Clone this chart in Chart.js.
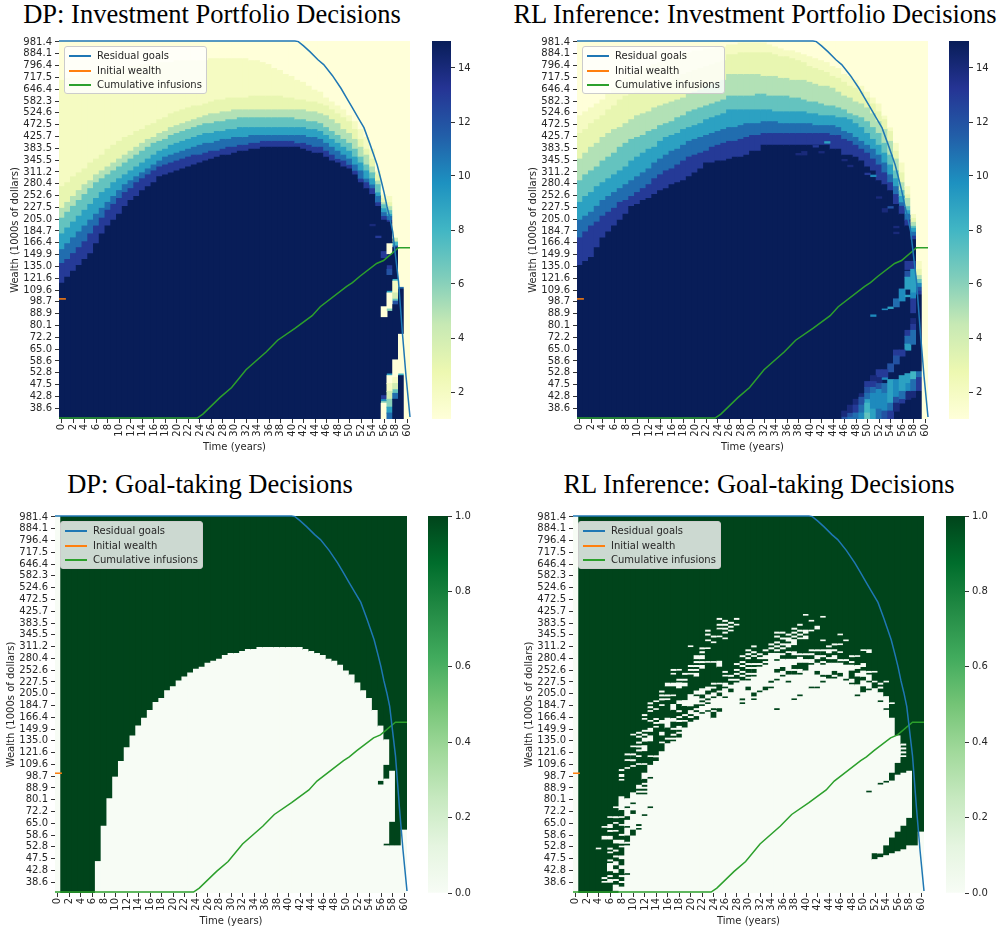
<!DOCTYPE html>
<html lang="en">
<head>
<meta charset="UTF-8">
<script src="https://cdn.jsdelivr.net/npm/chart.js"></script>
<style>
    body { margin: 0; background: #fff; width: 1000px; height: 930px; position: relative; overflow: hidden; }
    canvas { position: absolute; }
    .title { position: absolute; width: 600px; text-align: center; font: 26.5px 'Liberation Serif', serif; color: #000; white-space: nowrap; }
    .legend { position: absolute; width: 141px; height: 46px; background: rgba(255,255,255,0.8); border: 1px solid #ccc; border-radius: 3px; font: 10px 'DejaVu Sans', sans-serif; color: #262626; }
    .legend div { position: absolute; left: 32px; white-space: nowrap; line-height: 12px; }
    .legend i { position: absolute; left: -28px; top: 5px; width: 22px; height: 2px; }
</style>
</head>
<body>
<script>
// axis labels
const wealthTicks = [981.4,884.1,796.4,717.5,646.4,582.3,524.6,472.5,425.7,383.5,345.5,311.2,280.4,252.6,227.5,205.0,184.7,166.4,149.9,135.0,121.6,109.6,98.7,88.9,80.1,72.2,65.0,58.6,52.8,47.5,42.8,38.6];
const yearTicks = [0,2,4,6,8,10,12,14,16,18,20,22,24,26,28,30,32,34,36,38,40,42,44,46,48,50,52,54,56,58,60];
const portfolioBarTicks = [2,4,6,8,10,12,14];
const goalBarTicks = [0,0.2,0.4,0.6,0.8,1.0];
const rowCount = 192, colCount = 61;

// lines, x in years, y in wealth grid rows
const goalsT = [0,41,41.6,42.5,43.6,45,46,47.5,49,50,51,52,53,54,54.6,55.3,56,56.5,57,57.5,58,59,59.7,60.3,61];
const goalsRow = [0,0,0.3,2.5,5.4,9.5,12,17.5,24,29,34,39,44,52,57,63,71,77,84,90,97,122,149,170,191];
const wealthT = [0,1.2];
const wealthRow = [131,131];
const infusionT = [0,24,25,28,30,32.5,36,38,41,44,45.4,50,51,52.3,55.2,56.4,59,61];
const infusionRow = [191.5,191.5,189.5,181,176,167,158,152,146,139.5,135,124.6,122.7,119.5,113,111.5,105,105];

// DP portfolio: first row (from the top) where each level starts, one entry per year
const dpLevels = [2,3,5,7,9,11,13,15];
const dpTop2 = [20,19,18,18,17,17,16,16,15,15,14,14,13,13,12,12,12,11,11,11,10,10,10,10,10,10,9,9,9,9,9,9,9,10,10,11,12,14,15,17,18,20,21,23,25,26,29,31,33,35,38,41,45,49,55,66,78,79];
const dpTop3 = [74,72,69,67,65,62,60,58,55,53,51,49,48,46,45,43,42,40,39,37,36,35,34,33,33,32,31,30,30,29,29,29,29,28,28,28,28,28,28,29,29,30,30,31,31,32,33,35,37,39,41,45,50,55,60,68,80,82];
const dpTop5 = [85,82,79,76,73,71,68,66,64,62,60,58,56,54,52,50,49,47,46,44,43,42,41,40,39,38,37,37,36,36,35,35,35,35,35,35,35,35,35,35,35,35,35,36,36,37,38,40,42,45,47,50,54,58,64,71,82,84];
const dpTop7 = [90,87,84,81,78,75,72,70,68,66,64,62,60,58,56,54,52,51,50,48,47,46,45,44,43,42,42,41,41,40,40,39,39,39,39,39,39,39,39,39,39,40,40,41,41,42,44,46,48,50,52,55,59,63,67,73,83,86];
const dpTop9 = [98,95,92,89,86,83,80,77,75,72,70,68,66,64,62,60,58,56,55,53,52,51,50,49,48,47,47,46,46,45,45,44,44,44,44,44,44,44,44,44,44,44,44,45,45,46,48,50,52,54,56,59,62,66,70,77,85,88];
const dpTop11 = [106,103,100,97,94,91,88,85,82,79,76,73,71,69,67,65,63,61,59,58,57,56,55,54,53,52,52,51,50,50,49,49,49,48,48,48,48,48,48,48,48,48,48,49,49,50,52,54,56,58,60,63,66,70,73,79,87,89];
const dpTop13 = [113,111,108,105,102,98,94,90,86,83,80,77,75,72,70,68,66,64,63,62,61,60,59,58,58,57,56,56,55,54,54,53,53,52,52,51,51,51,51,51,51,52,52,53,54,54,56,58,60,61,63,66,70,72,75,82,89,91];
const dpTop15 = [123,120,117,114,111,108,103,98,94,91,88,84,81,79,76,74,72,69,68,67,66,65,64,63,62,61,60,59,58,58,57,56,56,55,55,54,54,54,54,54,54,54,55,56,57,57,59,61,62,64,65,68,72,75,78,84,91,92];
// [year, from row, to row, level] pieces that break the bands
const dpPatches = [
    [54,93,94,14],[55,99,100,13],
    [56,107,110,13],[56,135,140,1],[56,180,182,13],[56,182,183,10],[56,183,184,6],[56,184,192,1],
    [57,103,108,1],[57,114,116,13],[57,116,118.6,12],[57,127,128,9],[57,128,136,1],[57,136,137,6],[57,169,170,9],[57,170,174,1],[57,174,178,2],[57,178,182,4],[57,182,186,6],[57,186,189,9],[57,189,192,11],
    [58,0,100,1],[58,100,102,4],[58,102,104,8],[58,104,105,12],[58,105,121,15],[58,121,122,8],[58,122,128,2],[58,128,131,4],[58,131,132,7],[58,132,134,12],[58,134,162,15],[58,162,171,1],[58,171,174,2],[58,174,177,4],[58,177,179,7],[58,179,182,11],[58,182,192,15],
    [59,0,125,1],[59,125,126,11],[59,126,149,15],[59,149,169,1],[59,169,170,8],[59,170,192,15],
    [60,0,192,1]
];

// RL portfolio
const rlLevels = [2,3,5,7,9,11,13,15];
const rlTop2 = [38,36,34,32,30,27,24,21,19,17,15,14,13,12,11,10,9,8,7,6,5,5,4,4,3,3,2,2,1,1,1,1,1,2,3,4,5,5,6,7,8,9,10,11,13,14,17,18,20,23,26,29,32,38,44,52,62,74,88];
const rlTop3 = [47,45,42,40,38,35,33,30,28,27,26,25,25,24,22,21,20,19,17,16,15,14,13,12,11,10,7,7,6,6,6,6,6,6,7,8,8,9,10,11,13,14,15,16,18,19,21,23,24,26,29,32,36,40,46,56,67,78,90];
const rlTop5 = [60,57,54,52,49,47,45,44,42,40,38,37,36,34,33,32,31,30,29,27,26,25,23,22,21,20,17,17,17,17,17,17,18,18,18,19,19,20,20,20,21,22,23,23,24,26,28,29,31,32,34,37,41,45,51,60,72,80,92];
const rlTop7 = [71,68,66,64,61,59,57,54,52,50,49,48,46,45,43,42,41,39,38,36,35,34,33,32,31,30,28,28,28,28,28,27,27,28,28,28,28,29,29,30,31,31,32,33,33,34,35,37,38,39,41,44,47,52,58,66,76,84,94];
const rlTop9 = [82,79,77,74,72,70,68,66,64,61,59,57,55,54,51,49,48,47,45,44,43,42,40,39,38,37,35,35,35,35,35,35,35,35,36,36,36,36,36,36,37,37,38,38,38,39,39,40,42,44,47,50,53,57,63,70,79,86,95];
const rlTop11 = [91,89,87,84,81,79,77,75,73,71,69,67,65,62,60,58,56,55,53,51,50,49,48,47,46,45,44,44,43,42,42,42,41,41,41,42,42,42,42,42,42,43,43,43,43,44,46,47,49,51,53,55,58,62,68,74,82,88,97];
const rlTop13 = [100,97,94,92,89,87,85,82,81,79,77,75,73,70,68,66,65,63,61,59,58,57,56,54,53,52,51,51,50,49,48,48,47,47,47,47,47,47,47,47,47,47,47,47,48,48,50,51,53,55,57,60,63,67,72,78,84,91,99];
const rlTop15 = [114,112,110,105,100,97,94,91,88,84,83,81,80,78,76,75,73,72,71,69,67,65,62,62,61,61,60,59,59,58,56,56,53,53,53,53,53,53,53,53,53,53,53,53,55,55,58,58,59,61,64,66,71,73,76,83,88,94,101];
const rlPatches = [
    [38,57,58,14],[39,56,58,14],[40,50,51,13],[41,53,54,13],[42,56,57,14],[43,51,52,9],[46,60,61,14],[47,63,64,14],[50,67,68,13],[51,68,69,10],[52,79,80,14],[53,85,87,14],[54,84,85,12],[55,94,95,14],[55,97,98,14],
    [51,139,140,10],[53,136,136.6,10],[54,135,136,9],[55,131,135,11],[56,126,132,10],
    [57,112,116,13],[57,117,120,12],[57,120,126,9],[57,129,130,9],[57,147,150,13],[57,150,154,11],[57,154,157,9],[57,169,174,9],[57,174,178,10],[57,178,182,14],
    [58,112,116,13],[58,116,128,9],[58,128,131,10],[58,131,138,13],[58,141,144,14],[58,144,147,13],[58,147,154,11],[58,168,172,8],[58,172,178,11],[58,178,181,14],
    [55,157,160,13],[56,157,160,13],[55,160,164,12],[54,164,168,12],[53,167,171,13],[52,167,171,13],[52,171,174,14],[53,171,172,10],[51,170,173,14],[51,173,176,13],[50,173,176,13],
    [46,188,191,14],[46,191,192,12],[47,185,189,14],[47,189,191,12],[47,191,192,11],[48,182,185,14],[48,185,189,13],[48,189,192,11],
    [49,179,181,14],[49,181,185,12],[49,185,189,11],[49,189,192,10],[50,176,179,12],[50,179,182,11],[50,182,184,9],[50,184,189,8],[50,189,192,7],
    [51,176,179,11],[51,179,187,10],[51,187,192,9],[52,174,177,12],[52,177,187,10],[52,187,192,11],[53,174,179,11],[53,179,188,10],[53,188,192,12],
    [54,172,184,9],[54,184,188,11],[54,188,192,13],[55,172,181,10],[55,181,184,12],[55,184,188,14],[56,170,178,9],[56,178,182,11],[56,182,184,13],
    [59,0,112,1],[59,112,116,2],[59,116,119,3],[59,119,121,5],[59,121,123,7],[59,123,125,10],[59,125,127,12],[59,127,129,13],[59,129,168,15],[59,168,171,11],[59,171,178,13],[59,178,192,15],
    [60,0,192,1]
];

// goal taking: rows where the decision is 0, per year, everything else is 1
const dpGoalZero = [
    [[0,192]],[],[],[],[],[],[],[[176,192]],[[158,192]],[[144,192]],
    [[133,192]],[[125,192]],[[118,192]],[[112,192]],[[107,192]],[[103,192]],[[99,192]],[[95,192]],[[93,192]],[[89,192]],
    [[87,192]],[[84,192]],[[82,192]],[[80,192]],[[78,192]],[[77,192]],[[75,192]],[[74,192]],[[73,192]],[[71,192]],
    [[70,192]],[[70,192]],[[69,192]],[[68,192]],[[68,192]],[[67,192]],[[67,192]],[[67,192]],[[67,192]],[[67,192]],
    [[67,192]],[[67,192]],[[67,192]],[[68,192]],[[69,192]],[[70,192]],[[71,192]],[[73,192]],[[74,192]],[[76,192]],
    [[79,192]],[[81,192]],[[85,192]],[[89,192]],[[93,192]],[[99,192]],[[107,135],[137,192]],[[114,127],[134,167],[168,192]],[[130,156],[168,192]],[[168,192]],
    [[160,192]]
];
const rlGoalZero = [
    [[0,192]],[],[],[],[[169,170]],
    [[158,159],[163,165],[184,185],[186,187]],
    [[153,154],[157,159],[160,161],[163,165],[169,170],[171,172],[175,176],[177,181],[183,184],[185,187]],
    [[148,149],[153,154],[156,157],[160,161],[165,167],[170,171],[173,174],[176,178],[180,182],[185,186],[188,191]],
    [[129,130],[131.5,133],[134,135],[143,150],[153,154],[157,158],[162,163],[165,167],[168,169],[173,175],[178,180],[183,184],[186,187],[189,192]],
    [[121,122],[124,125],[128,129],[144,148],[149,153],[155,158],[159,163],[166,167],[168,182],[183,192]],
    [[111,112],[117,118],[121,122],[124,125],[127,128],[141,146],[147,150],[152,160],[163,192]],
    [[110,111],[112,113],[115,116],[117,118],[119,120],[122,123],[126,127],[137,139],[140,141],[142,157],[158,159],[160,192]],
    [[101,102],[103,104],[109,110],[111,112],[113,115],[117,120],[126,127],[131,134],[136,137],[138,139],[140,141],[142,152],[153,192]],
    [[95,96],[97,98],[99,100],[104,105],[108,110],[112,115],[122,123],[127,133],[134,148],[149,192]],
    [[94,95],[98,99],[103,104],[105,106],[107,108],[122,123],[125,192]],
    [[89,90],[91,92],[93,94],[96,97],[104,106],[110,112],[115,116],[120,192]],
    [[85,87],[91,92],[93,94],[103,108],[113,114],[116,192]],
    [[78,79],[80,81],[85,87],[91,92],[96,99],[103,105],[108,109],[111,112],[113,114],[115,192]],
    [[78,79],[83,84],[85,88],[94,96],[99,100],[102,103],[104,105],[107,109],[110,111],[113,192]],
    [[80,81],[83,84],[85,87],[94,97],[101,102],[104,105],[108,192]],
    [[66,67],[76,77],[78,79],[80,81],[91,97],[99,101],[102,103],[105,192]],
    [[71,73],[74,75],[76,77],[78,79],[80,82],[89,91],[92,96],[98,99],[100,102],[104,192]],
    [[67,68],[69,70],[71,73],[74,75],[76,78],[88,91],[93,94],[95,96],[97,100],[101,192]],
    [[58,59],[60,61],[63,64],[67,68],[74,75],[87,89],[91,93],[94,95],[96,99],[100,192]],
    [[61,62],[64,65],[74,75],[85,86],[87,88],[90,92],[93,98],[99,100],[103,192]],
    [[52,53],[55,56],[57,58],[61,62],[74,77],[85,86],[89,90],[92,98],[100,192]],
    [[53,54],[55,56],[57,58],[59,60],[62,63],[79,80],[81,82],[85,87],[88,92],[93,192]],
    [[54,55],[56,57],[58,59],[81,82],[83,84],[86,88],[90,192]],
    [[52,53],[55,56],[75,76],[78,79],[80,81],[83,84],[85,192]],
    [[71,72],[74,75],[76,77],[79,80],[81,82],[84,93],[94,95],[96,192]],
    [[68,69],[70,71],[72,73],[75,76],[77,78],[80,81],[82,83],[84,87],[89,192]],
    [[66,67],[69,70],[71,72],[75,76],[77,78],[80,81],[82,90],[92,93],[94,192]],
    [[70,71],[72,73],[75,76],[77,89],[90,192]],
    [[68,69],[71,73],[74,75],[76,87],[89,192]],
    [[65,66],[67,68],[70,84],[85,87],[88,192]],
    [[59,60],[61,62],[64,65],[66,67],[68,69],[70,73],[74,78],[80,83],[84,98],[99,192]],
    [[59,60],[62,63],[65,66],[67,68],[70,71],[73,77],[79,81],[82,192]],
    [[60,61],[62,64],[65,67],[69,70],[73,79],[81,84],[85,192]],
    [[57,58],[59,60],[61,62],[63,66],[69,71],[73,76],[78,79],[81,93],[94,192]],
    [[55,56],[58,59],[60,61],[62,63],[70,71],[72,75],[78,80],[81,91],[92,192]],
    [[50,51],[58,60],[61,63],[70,71],[73,75],[79,192]],
    [[53,54],[58,59],[68,69],[70,71],[73,75],[76,87],[88,192]],
    [[56,58],[68,69],[71,73],[75,79],[81,87],[88,192]],
    [[51,52],[63,64],[68,69],[71,72],[74,75],[76,81],[82,84],[85,192]],
    [[66,67],[68,70],[72,73],[75,81],[83,192]],
    [[65,66],[68,69],[71,73],[75,79],[81,82],[83,192]],
    [[60,61],[65,66],[69,70],[73,74],[75,80],[82,192]],
    [[63,64],[73,74],[76,83],[84,192]],
    [[71,72],[74,75],[76,79],[83,85],[86,192]],
    [[71,72],[76,78],[80,82],[86,91],[92,192]],
    [[68,69],[75,77],[79,82],[84,87],[90,192]],
    [[68,70],[79,80],[81,84],[85,88],[89,140],[141,192]],
    [[79,80],[84,85],[88,172],[175,192]],
    [[85,86],[87,88],[90,94],[95,136],[137,172],[174,192]],
    [[84,85],[92,98],[99,135],[136,168],[173,192]],
    [[95,96],[103,131],[135,164],[172,192]],
    [[112,126],[132,161],[171,192]],
    [[116,117],[118,119],[120,121],[122,123],[131,158],[170,192]],
    [[130,154],[168,192]],
    [[168,192]],
    [[161,192]]
];

const ylGnBu = ['#ffffd9','#edf8b1','#c7e9b4','#7fcdbb','#41b6c4','#1d91c0','#225ea8','#253494','#081d58'];
const greens = ['#f7fcf5','#e5f5e0','#c7e9c0','#a1d99b','#74c476','#41ab5d','#238b45','#006d2c','#00441b'];
const tickFont = { family: "'DejaVu Sans', sans-serif", size: 10 };
const textColor = '#262626';

function hexToRgb(h) {
    return [1, 3, 5].map(i => parseInt(h.substr(i, 2), 16));
}
function mapColor(stops, t) {
    const p = Math.min(t, 0.9999) * (stops.length - 1);
    const i = Math.floor(p);
    const a = hexToRgb(stops[i]), b = hexToRgb(stops[i + 1]);
    const mix = a.map((c, k) => Math.round(c + (b[k] - c) * (p - i)));
    return `rgb(${mix[0]},${mix[1]},${mix[2]})`;
}

function bandCells(tops, levels, patches) {
    const cells = [];
    tops[0].forEach((_, col) => {
        let from = 0, v = 1;
        tops.forEach((top, i) => {
            if (top[col] > from) cells.push({ x: col + 0.5, y: [from, top[col]], v: v });
            from = Math.max(from, top[col]);
            v = levels[i];
        });
        cells.push({ x: col + 0.5, y: [from, rowCount], v: v });
    });
    patches.forEach(p => cells.push({ x: p[0] + 0.5, y: [p[1], p[2]], v: p[3] }));
    return cells;
}
// the ones are the gaps between the zero runs of a year
function goalCells(zeroRuns) {
    const cells = [];
    zeroRuns.forEach((runs, col) => {
        let from = 0;
        runs.forEach(r => {
            if (r[0] > from) cells.push({ x: col + 0.5, y: [from, r[0]], v: 1 });
            cells.push({ x: col + 0.5, y: [r[0], r[1]], v: 0 });
            from = r[1];
        });
        if (from < rowCount) cells.push({ x: col + 0.5, y: [from, rowCount], v: 1 });
    });
    return cells;
}
function linePoints(xs, ys) {
    return xs.map((x, i) => ({ x: x, y: ys[i] }));
}

function addCanvas(left, top, width, height) {
    const c = document.createElement('canvas');
    c.width = width; c.height = height;
    c.style.left = left + 'px'; c.style.top = top + 'px';
    document.body.appendChild(c);
    return c;
}

function heatPanel(box, cells, cellColor) {
    const axisW = 52, axisH = 34, padTop = 10, padRight = 4;
    const canvas = addCanvas(box.left - axisW, box.top - padTop, box.width + axisW + padRight, box.height + padTop + axisH);
    new Chart(canvas, {
        type: 'bar',
        data: {
            datasets: [
                { label: 'Residual goals', type: 'line', data: linePoints(goalsT, goalsRow), borderColor: '#1f77b4', borderWidth: 1.5, pointRadius: 0, clip: false, order: 0 },
                { label: 'Initial wealth', type: 'line', data: linePoints(wealthT, wealthRow), borderColor: '#ff7f0e', borderWidth: 1.5, pointRadius: 0, clip: false, order: 0 },
                { label: 'Cumulative infusions', type: 'line', data: linePoints(infusionT, infusionRow), borderColor: '#2ca02c', borderWidth: 1.5, pointRadius: 0, clip: false, order: 0 },
                {
                    label: 'cells', data: cells, backgroundColor: c => cellColor(c.raw.v), borderWidth: 0, grouped: false,
                    barPercentage: 1, categoryPercentage: 1, order: 1,
                    // tall runs overlap their neighbours a little so no seams show, thin ones stay thin
                    inflateAmount: c => (c.raw.y[1] - c.raw.y[0] > 2 ? 0.5 : 0.2)
                }
            ]
        },
        options: {
            responsive: false,
            animation: false,
            events: [],
            layout: { padding: { top: padTop, right: padRight, left: 0, bottom: 0 } },
            plugins: { legend: { display: false }, tooltip: { enabled: false } },
            scales: {
                x: {
                    type: 'linear', min: 0, max: colCount, offset: false,
                    grid: { display: true, offset: false, drawOnChartArea: false, drawTicks: true, tickLength: 4, tickColor: '#333' },
                    border: { display: false },
                    afterBuildTicks: s => { s.ticks = yearTicks.map(y => ({ value: y + 0.5 })); },
                    afterFit: s => { s.height = axisH; s.paddingLeft = 0; s.paddingRight = 0; },
                    ticks: { autoSkip: false, minRotation: 90, maxRotation: 90, padding: 1, font: tickFont, color: textColor, callback: v => String(v - 0.5) },
                    title: { display: true, text: 'Time (years)', font: tickFont, color: textColor, padding: { top: 0, bottom: 0 } }
                },
                y: {
                    type: 'linear', reverse: true, min: 0, max: rowCount,
                    grid: { display: true, drawOnChartArea: false, drawTicks: true, tickLength: 4, tickColor: '#333' },
                    border: { display: false },
                    afterBuildTicks: s => { s.ticks = wealthTicks.map((w, i) => ({ value: i * 6 + 0.5 })); },
                    afterFit: s => { s.width = axisW; s.paddingTop = 0; s.paddingBottom = 0; },
                    ticks: { autoSkip: false, padding: 3, font: tickFont, color: textColor, callback: v => wealthTicks[(v - 0.5) / 6].toFixed(1) },
                    title: { display: true, text: 'Wealth (1000s of dollars)', font: tickFont, color: textColor, padding: { top: 2, bottom: 0 } }
                }
            }
        }
    });

    const legend = document.createElement('div');
    legend.className = 'legend';
    legend.style.left = (box.left + 5) + 'px';
    legend.style.top = (box.top + 5) + 'px';
    [['Residual goals', '#1f77b4', 3], ['Initial wealth', '#ff7f0e', 18], ['Cumulative infusions', '#2ca02c', 32]].forEach(l => {
        const row = document.createElement('div');
        row.style.top = l[2] + 'px';
        row.innerHTML = `<i style="background:${l[1]}"></i>${l[0]}`;
        legend.appendChild(row);
    });
    document.body.appendChild(legend);
}

function colorBar(box, stops, vMin, vMax, ticks, digits) {
    const canvas = addCanvas(box.left, box.top - 10, box.width + 34, box.height + 20);
    new Chart(canvas, {
        type: 'bar',
        data: {
            labels: [''],
            datasets: [{
                data: [[vMin, vMax]],
                borderWidth: 0, barPercentage: 1, categoryPercentage: 1,
                backgroundColor: c => {
                    const area = c.chart.chartArea;
                    if (!area) return stops[0];
                    const g = c.chart.ctx.createLinearGradient(0, area.bottom, 0, area.top);
                    stops.forEach((s, i) => g.addColorStop(i / (stops.length - 1), s));
                    return g;
                }
            }]
        },
        options: {
            responsive: false,
            animation: false,
            events: [],
            layout: { padding: { top: 10, bottom: 10, left: 0, right: 0 } },
            plugins: { legend: { display: false }, tooltip: { enabled: false } },
            scales: {
                x: { display: false },
                y: {
                    position: 'right', min: vMin, max: vMax,
                    grid: { display: true, drawOnChartArea: false, drawTicks: true, tickLength: 4, tickColor: '#333' },
                    border: { display: false },
                    afterBuildTicks: s => { s.ticks = ticks.map(v => ({ value: v })); },
                    afterFit: s => { s.width = 34; s.paddingTop = 0; s.paddingBottom = 0; },
                    ticks: { autoSkip: false, padding: 3, font: tickFont, color: textColor, callback: v => v.toFixed(digits) }
                }
            }
        }
    });
}

function addTitle(text, centerX, top) {
    const d = document.createElement('div');
    d.className = 'title';
    d.textContent = text;
    d.style.left = (centerX - 300) + 'px';
    d.style.top = top + 'px';
    document.body.appendChild(d);
}

const bandColor = v => mapColor(ylGnBu, (v - 1) / 14);
const goalColor = v => mapColor(greens, v);

addTitle('DP: Investment Portfolio Decisions', 212, -1);
addTitle('RL Inference: Investment Portfolio Decisions', 755, -1);
addTitle('DP: Goal-taking Decisions', 210, 469);
addTitle('RL Inference: Goal-taking Decisions', 759, 469);

heatPanel({ left: 59, top: 41, width: 351, height: 378 }, bandCells([dpTop2, dpTop3, dpTop5, dpTop7, dpTop9, dpTop11, dpTop13, dpTop15], dpLevels, dpPatches), bandColor);
heatPanel({ left: 577, top: 41, width: 351, height: 378 }, bandCells([rlTop2, rlTop3, rlTop5, rlTop7, rlTop9, rlTop11, rlTop13, rlTop15], rlLevels, rlPatches), bandColor);
heatPanel({ left: 55, top: 516, width: 352, height: 377 }, goalCells(dpGoalZero), goalColor);
heatPanel({ left: 573, top: 516, width: 351, height: 377 }, goalCells(rlGoalZero), goalColor);

colorBar({ left: 432, top: 41, width: 19, height: 378 }, ylGnBu, 1, 15, portfolioBarTicks, 0);
colorBar({ left: 949, top: 41, width: 20, height: 378 }, ylGnBu, 1, 15, portfolioBarTicks, 0);
colorBar({ left: 428, top: 516, width: 20, height: 377 }, greens, 0, 1, goalBarTicks, 1);
colorBar({ left: 946, top: 516, width: 19, height: 377 }, greens, 0, 1, goalBarTicks, 1);
</script>
</body>
</html>
